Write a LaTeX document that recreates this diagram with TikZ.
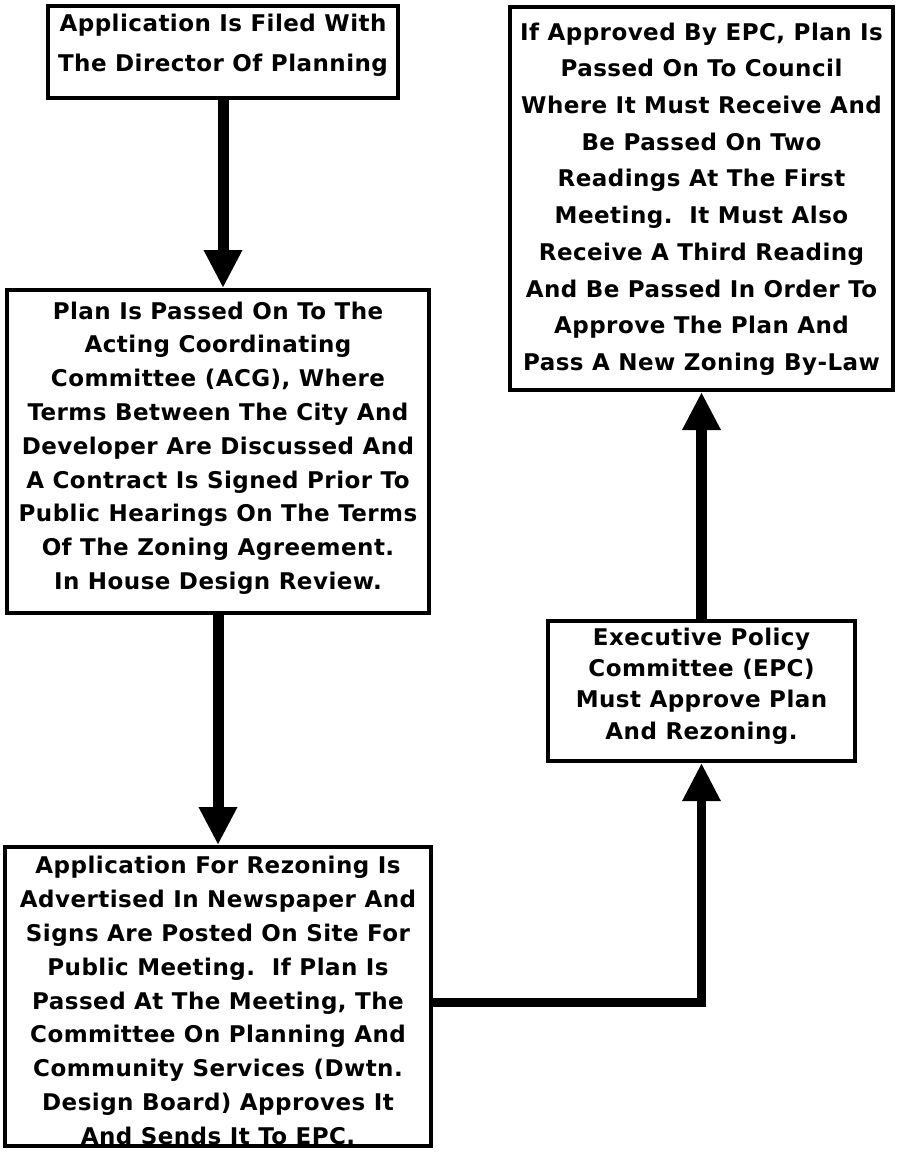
\documentclass[tikz,border=0pt]{standalone}
\usepackage{fontspec}
\setmainfont{DejaVu Sans}
\newfontfamily\chfont{DejaVu Sans Bold}[LetterSpace=2]
\usetikzlibrary{arrows.meta}
\tikzset{
  box/.style={draw, line width=4pt, inner sep=0pt},
  txtA/.style={font=\chfont\fontsize{23}{40}\selectfont, align=center, inner sep=0pt},
  txtB/.style={font=\chfont\fontsize{23}{33.8}\selectfont, align=center, inner sep=0pt},
  txtC/.style={font=\chfont\fontsize{23}{31.3}\selectfont, align=center, inner sep=0pt},
  txtD/.style={font=\chfont\fontsize{23}{36.7}\selectfont, align=center, inner sep=0pt},
  arr/.style={line width=11pt, -{Triangle[width=36pt,length=38pt]}},
}
\begin{document}
\begin{tikzpicture}[x=1pt,y=-1pt]
\useasboundingbox (0,0) rectangle (898,1156);
% boxes
\node[box, minimum width=350pt, minimum height=92pt] (b1) at (223,52) {};
\node[box, minimum width=422pt, minimum height=323pt] (b2) at (218,451.5) {};
\node[box, minimum width=426pt, minimum height=299pt] (b3) at (218,996.5) {};
\node[box, minimum width=307pt, minimum height=140pt] (epc) at (701.5,691) {};
\node[box, minimum width=383pt, minimum height=383pt] (b4) at (701.5,198.5) {};
% texts
\node[txtA] (t1) at (223,45) {Application Is Filed With\\The Director Of Planning};
\node[txtB] (t2) at (218,448) {Plan Is Passed On To The\\Acting Coordinating\\Committee (ACG), Where\\Terms Between The City And\\Developer Are Discussed And\\A Contract Is Signed Prior To\\Public Hearings On The Terms\\Of The Zoning Agreement.\\In House Design Review.};
\node[txtB] (t3) at (218,1000.5) {Application For Rezoning Is\\Advertised In Newspaper And\\Signs Are Posted On Site For\\Public Meeting.\ \ If Plan Is\\Passed At The Meeting, The\\Committee On Planning And\\Community Services (Dwtn.\\Design Board) Approves It\\And Sends It To EPC.};
\node[txtC] (t5) at (701.5,686) {Executive Policy\\Committee (EPC)\\Must Approve Plan\\And Rezoning.};
\node[txtD] (t4) at (701.5,199) {If Approved By EPC, Plan Is\\Passed On To Council\\Where It Must Receive And\\Be Passed On Two\\Readings At The First\\Meeting.\ \ It Must Also\\Receive A Third Reading\\And Be Passed In Order To\\Approve The Plan And\\Pass A New Zoning By-Law};
% connectors
\coordinate (c3) at ([yshift=-5.5pt]b3.east);
\draw[arr, line width=9pt] (c3) -| (epc.south);
\draw[arr] (b1.south) -- (b1.south |- b2.north);
\draw[arr] (b2.south) -- (b2.south |- b3.north);
\draw[arr] (epc.north) -- (b4.south);
\end{tikzpicture}
\end{document}
